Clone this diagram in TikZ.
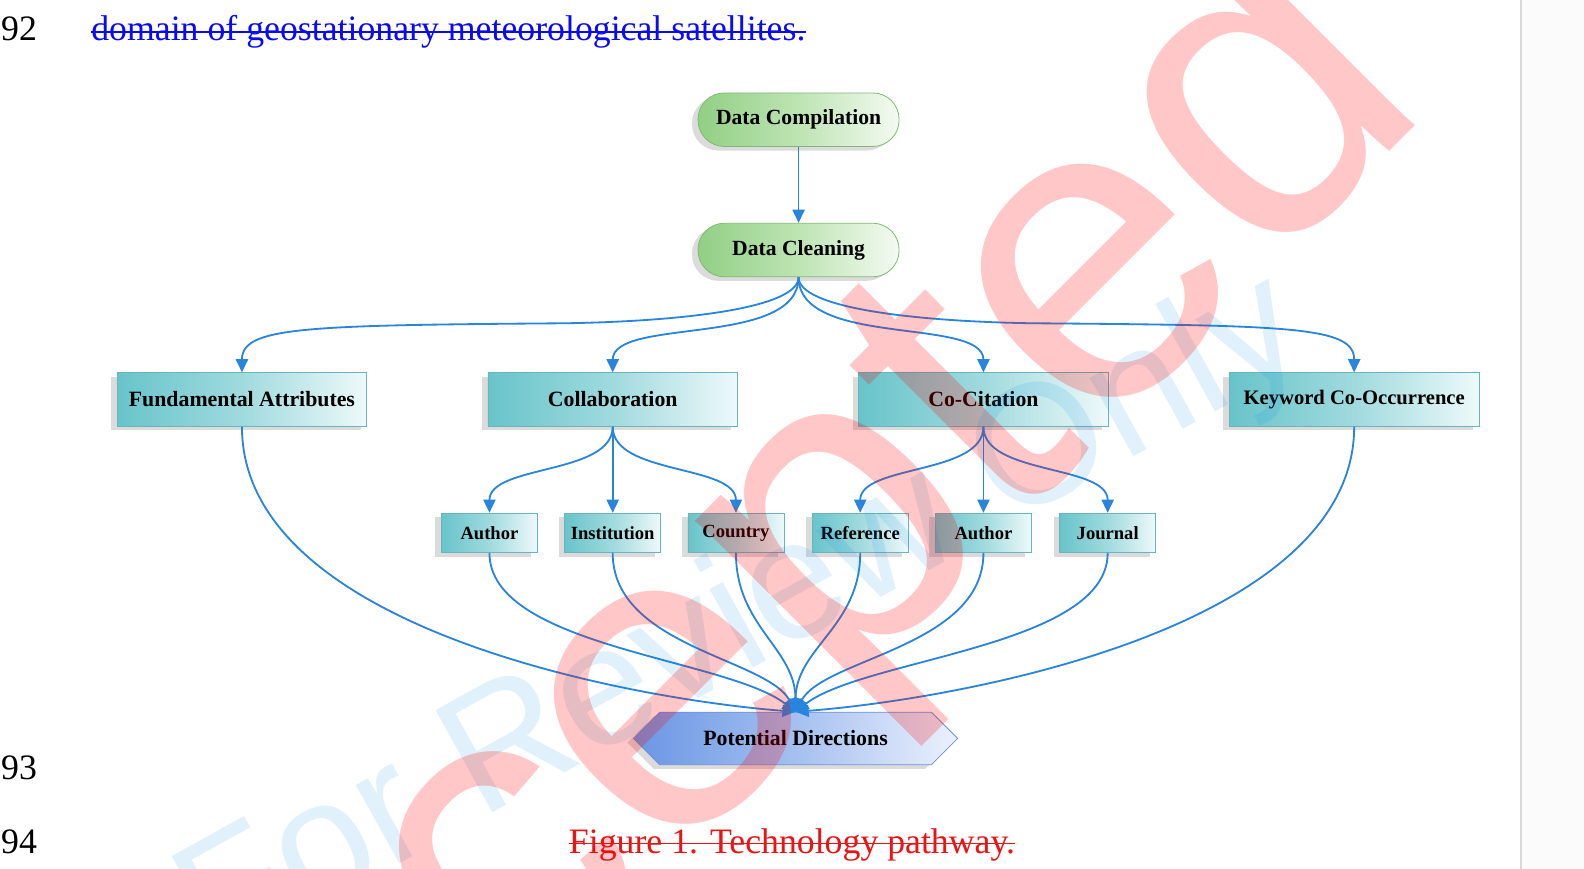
\documentclass[tikz,border=0pt]{standalone}
\usepackage{fontspec}
\setmainfont{Liberation Serif}
\newfontfamily\wmfont{Liberation Sans}
\usetikzlibrary{arrows.meta,shapes.symbols,shadows}
\definecolor{lnk}{RGB}{40,132,220}
\definecolor{tealL}{RGB}{104,196,202}
\definecolor{tealM}{RGB}{160,218,222}
\definecolor{tealR}{RGB}{238,249,250}
\definecolor{tealB}{RGB}{105,180,190}
\definecolor{grnL}{RGB}{146,207,132}
\definecolor{grnM}{RGB}{190,228,180}
\definecolor{grnR}{RGB}{244,250,242}
\definecolor{grnB}{RGB}{130,185,120}
\definecolor{bluL}{RGB}{106,150,228}
\definecolor{bluM}{RGB}{165,192,240}
\definecolor{bluR}{RGB}{236,241,253}
\definecolor{bluB}{RGB}{110,145,210}
\definecolor{wmblue}{RGB}{0,140,230}
\definecolor{txtblue}{RGB}{10,10,245}
\definecolor{capred}{RGB}{235,20,20}
\tikzset{
  shad/.style={drop shadow={shadow xshift=-3pt,shadow yshift=-2pt,opacity=0.14,fill=black}},
  pill/.style={draw=grnB, line width=0.4pt, rounded corners=13pt,
    minimum width=99.5pt, minimum height=26.5pt, inner sep=0pt,
    left color=grnL, right color=grnR, middle color=grnM, shad,
    font=\fontsize{10.7}{12}\bfseries\selectfont},
  bigbox/.style={draw=tealB, line width=0.4pt,
    minimum width=123.5pt, minimum height=26.5pt, inner sep=0pt,
    left color=tealL, right color=tealR, middle color=tealM, shad,
    font=\fontsize{10.8}{12}\bfseries\selectfont},
  smallbox/.style={draw=tealB, line width=0.4pt,
    minimum width=47.5pt, minimum height=19.5pt, inner sep=0pt,
    left color=tealL, right color=tealR, middle color=tealM, shad,
    font=\fontsize{9.2}{11}\bfseries\selectfont},
  pdshape/.style={signal, signal to=east and west, signal pointer angle=90,
    draw=bluB, line width=0.4pt, minimum width=160.5pt, minimum height=26pt, inner sep=0pt,
    left color=bluL, right color=bluR, middle color=bluM, shad,
    font=\fontsize{10.8}{12}\bfseries\selectfont},
  link/.style={draw=lnk, line width=0.9pt, -{Triangle[length=6.5pt,width=6pt]}},
  doc/.style={inner sep=0pt, font=\fontsize{17.7}{20}\selectfont},
}
\begin{document}
\begin{tikzpicture}[x=0.5pt,y=-0.5pt]
\useasboundingbox (0,0) rectangle (1568,860);
\clip (0,0) rectangle (1568,860);
\fill[white] (0,0) rectangle (1568,860);
\fill[gray!3] (1506,0) rectangle (1568,860);
\draw[gray!30, line width=1pt] (1506,0) -- (1506,860);

% page text
\node[doc, anchor=base east] (ln1) at (37,40) {392};
\node[doc, anchor=base east] (ln2) at (37,772) {393};
\node[doc, anchor=base east] (ln3) at (37,845) {394};
\node[doc, anchor=base west, text=txtblue] (t1) at (90,40) {domain of geostationary meteorological satellites.};
\draw[txtblue, line width=0.8pt] ([yshift=4.3pt]t1.base west) -- ([yshift=4.3pt]t1.base east);
\node[doc, anchor=base, text=capred] (cap) at (784,845) {Figure 1. Technology pathway.};
\draw[capred, line width=0.8pt] ([yshift=5pt]cap.base west) -- ([yshift=5pt]cap.base east);

% nodes
\node[pill] (dcomp) at (790.5,118.5) {Data Compilation};
\node[pill] (dclean) at (790.5,247.5) {Data Cleaning};

\node[bigbox] (fa) at (239.5,395.5) {Fundamental Attributes};
\node[bigbox] (collab) at (606.5,395.5) {Collaboration};
\node[bigbox] (cocit) at (973.5,395.5) {Co-Citation};
\node[bigbox, font=\fontsize{10.2}{12}\bfseries\selectfont] (kw) at (1340.5,395.5) {Keyword Co-Occurrence};

\node[smallbox] (au1) at (484.5,527.5) {Author};
\node[smallbox] (inst) at (606.5,527.5) {Institution};
\node[smallbox] (ctry) at (728.5,527.5) {Country};
\node[smallbox] (ref) at (851.5,527.5) {Reference};
\node[smallbox] (au2) at (973.5,527.5) {Author};
\node[smallbox] (jour) at (1096.5,527.5) {Journal};

\node[pdshape] (pd) at (787.5,731) {Potential Directions};

% connectors
\draw[link] (dcomp.south) -- (dclean.north);
\draw[link] (dclean.south) .. controls +(0,30) and +(120,-2) .. (560,320) .. controls +(-260,2) and +(0,-45) .. (fa.north);
\draw[link] (dclean.south) .. controls +(0,30) and +(-120,-2) .. (1021,320) .. controls +(260,2) and +(0,-45) .. (kw.north);
\draw[link] (dclean.south) .. controls +(0,70) and +(0,-55) .. (collab.north);
\draw[link] (dclean.south) .. controls +(0,70) and +(0,-55) .. (cocit.north);

\draw[link] (collab.south) .. controls +(0,48) and +(0,-48) .. (au1.north);
\draw[link] (collab.south) -- (inst.north);
\draw[link] (collab.south) .. controls +(0,48) and +(0,-48) .. (ctry.north);
\draw[link] (cocit.south) .. controls +(0,48) and +(0,-48) .. (ref.north);
\draw[link] (cocit.south) -- (au2.north);
\draw[link] (cocit.south) .. controls +(0,48) and +(0,-48) .. (jour.north);

\draw[link] (fa.south) .. controls +(0,198) and +(-168,-13) .. (pd.north);
\draw[link] (kw.south) .. controls +(0,198) and +(168,-13) .. (pd.north);
\draw[link] (au1.south) .. controls +(0,93) and +(-68,-53) .. (pd.north);
\draw[link] (inst.south) .. controls +(0,93) and +(-28,-53) .. (pd.north);
\draw[link] (ctry.south) .. controls +(0,73) and +(0,-63) .. (pd.north);
\draw[link] (ref.south) .. controls +(0,73) and +(0,-63) .. (pd.north);
\draw[link] (au2.south) .. controls +(0,93) and +(28,-53) .. (pd.north);
\draw[link] (jour.south) .. controls +(0,93) and +(68,-53) .. (pd.north);

% watermarks
\node[rotate=29, text=wmblue, opacity=0.12, inner sep=0pt] (wmb) at (736,617)
  {\fontsize{84}{84}\selectfont\wmfont For Review Only};
\node[rotate=45, text=red, opacity=0.22, inner sep=0pt] (wmr) at (708,660)
  {\fontsize{215}{215}\selectfont\wmfont Accepted};
\end{tikzpicture}
\end{document}
